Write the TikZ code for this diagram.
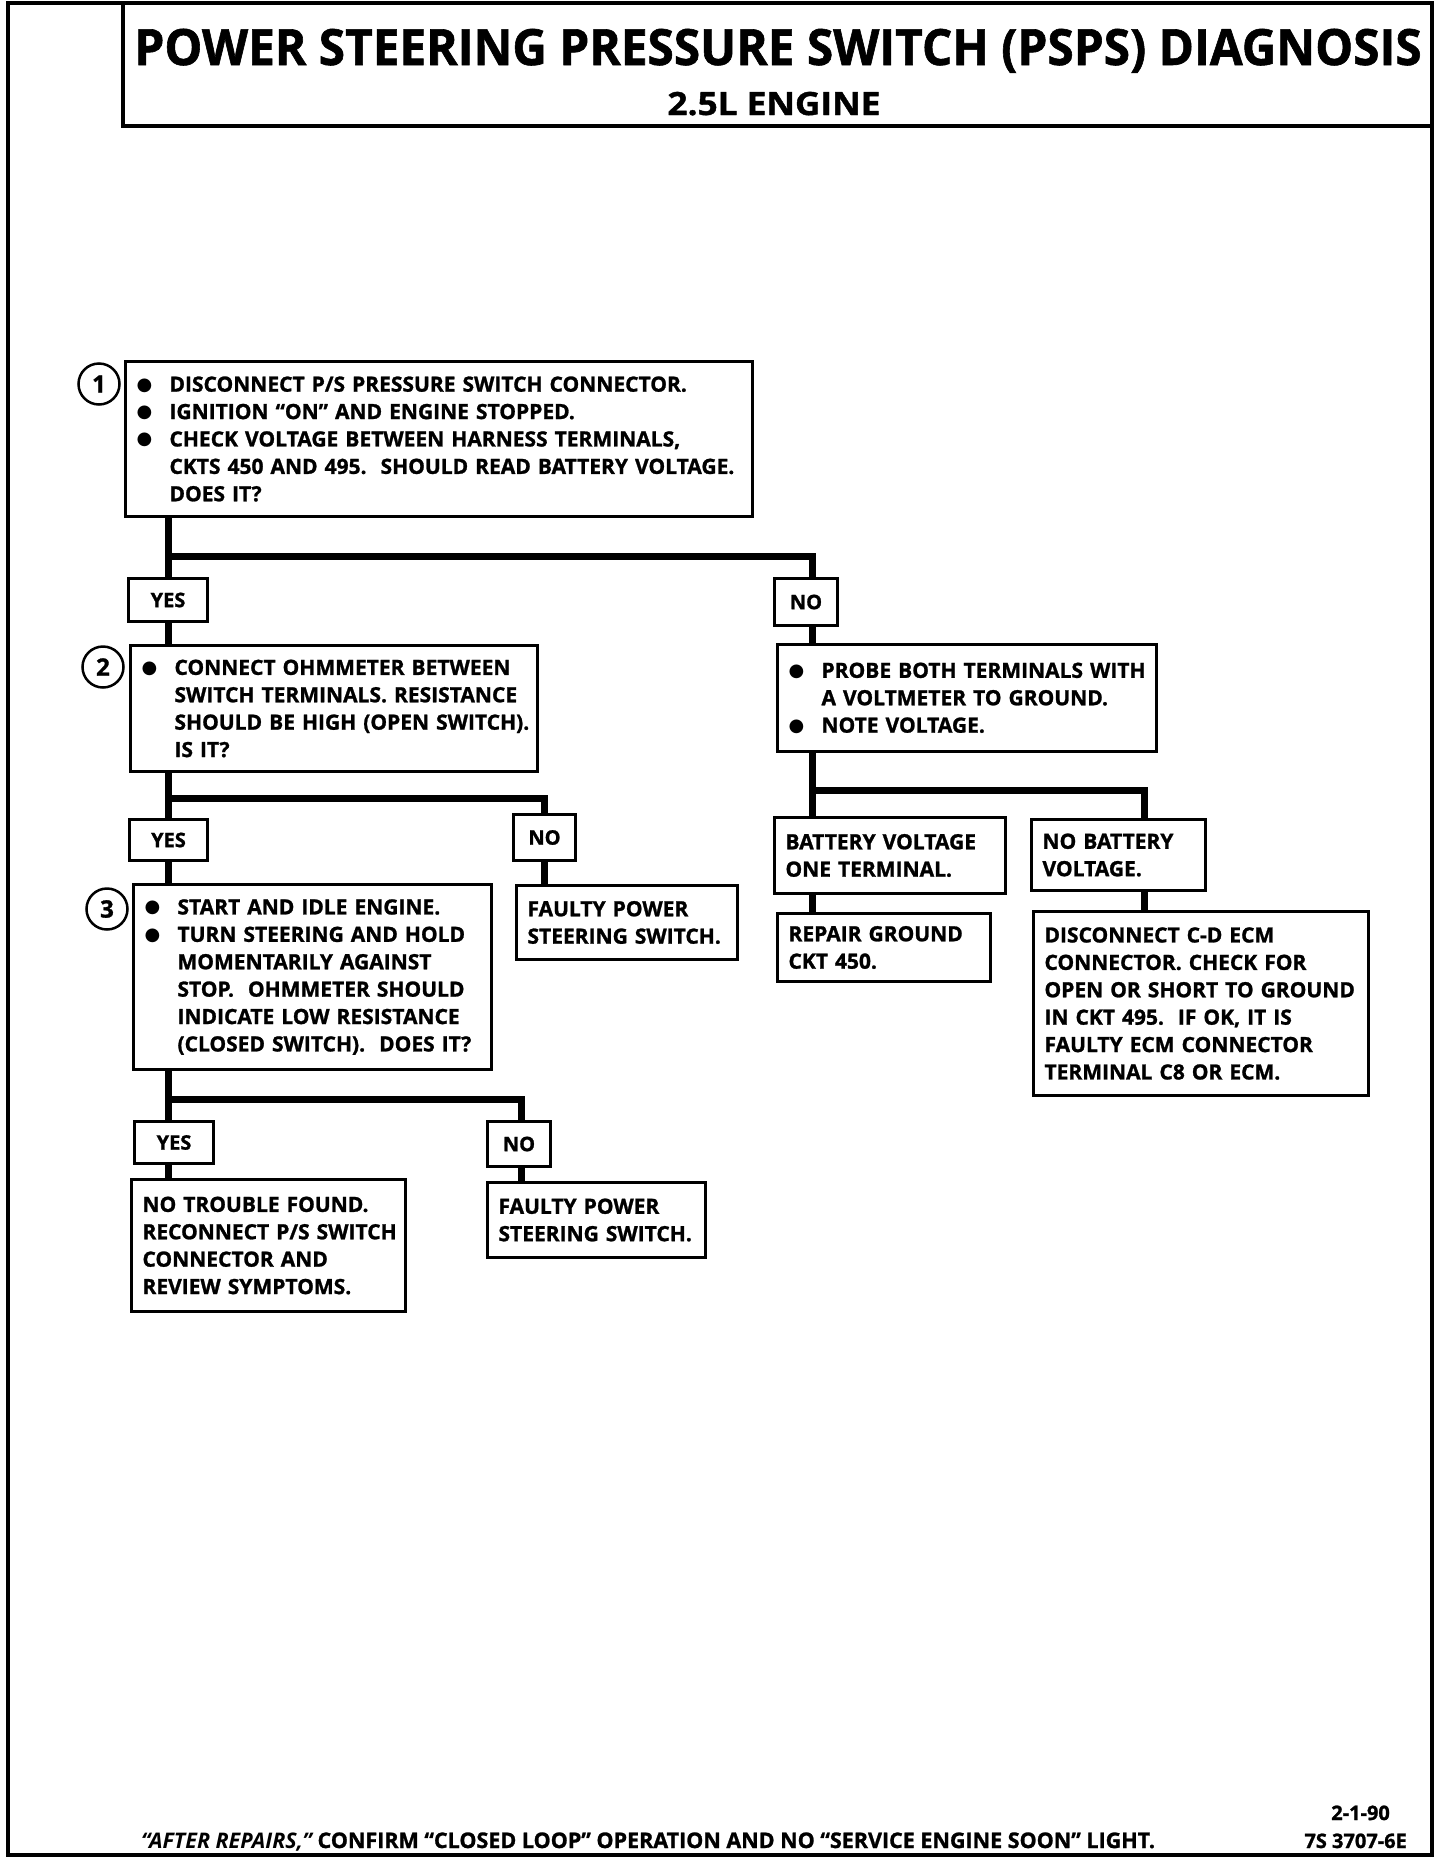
\documentclass[tikz,border=0pt]{standalone}
\usepackage{fontspec}
\setmainfont{Open Sans}[BoldFeatures={FakeBold=1.2}]
\newfontfamily\dejavu{DejaVu Sans}
\newcommand{\bl}{\makebox[33pt][l]{\raisebox{1.5pt}{\dejavu\fontsize{18}{18}\selectfont ●}}}
\newcommand{\ind}{\hspace*{33pt}}
\newcommand{\ml}[1]{\mbox{#1}}
\newcommand{\mybox}[6]{%
  \pgfmathsetmacro\mytw{#4-#2-22}%
  \pgfmathsetmacro\myht{#5-#3}%
  \node[box, text width=\mytw pt, minimum height=\myht pt] (#1) at (#2,#3) {#6};}
\newcommand{\mylab}[6]{%
  \pgfmathsetmacro\mytw{#4-#2}%
  \pgfmathsetmacro\myht{#5-#3}%
  \node[lab, minimum width=\mytw pt, minimum height=\myht pt] (#1) at (#2,#3) {#6};}
\begin{document}
\begin{tikzpicture}[x=1pt,y=-1pt,
  box/.style={draw, line width=3pt, anchor=north west, inner xsep=11pt, inner ysep=0pt,
    align=left, font=\bfseries\fontsize{21}{27.4}\selectfont},
  lab/.style={draw, line width=3pt, anchor=north west, inner sep=0pt, align=center,
    font=\bfseries\fontsize{20}{20}\selectfont},
  conn/.style={line width=7pt},
  num/.style={draw, circle, line width=2.5pt, inner sep=0pt, minimum size=41pt,
    font=\bfseries\fontsize{24}{24}\selectfont},
  frame/.style={line width=4.5pt},
  foot/.style={font=\bfseries\fontsize{21.5}{21.5}\selectfont, inner sep=0pt}]
\useasboundingbox (0,0) rectangle (1456,1874);
\fill[white] (0,0) rectangle (1456,1874);
% outer frame and title box
\draw[frame] (8,3) rectangle (1432,1855);
\draw[frame] (123,3) -- (123,126) -- (1432,126);
\node[anchor=base, inner sep=0pt, font=\bfseries\fontsize{50}{50}\selectfont] (title) at (778,65)
  {\scalebox{0.955}[1]{POWER STEERING PRESSURE SWITCH (PSPS) DIAGNOSIS}};
\node[anchor=base, inner sep=0pt, font=\bfseries\fontsize{32}{32}\selectfont] (sub) at (774,115)
  {\scalebox{1.1}[1]{2.5L ENGINE}};
% boxes
\mybox{b1}{124}{360}{751}{515}{\ml{\bl DISCONNECT P/S PRESSURE SWITCH CONNECTOR.}\\
  \ml{\bl IGNITION “ON” AND ENGINE STOPPED.}\\
  \ml{\bl CHECK VOLTAGE BETWEEN HARNESS TERMINALS,}\\
  \ml{\ind CKTS 450 AND 495.\ \ SHOULD READ BATTERY VOLTAGE.}\\
  \ml{\ind DOES IT?}}
\node[num] (c1) at (99,384) {1};
\mylab{yes1}{127}{577}{206}{620}{YES}
\mylab{no1}{773}{577}{836}{624}{NO}
\mybox{b2}{129}{644}{536}{770}{\ml{\bl CONNECT OHMMETER BETWEEN}\\
  \ml{\ind SWITCH TERMINALS. RESISTANCE}\\
  \ml{\ind SHOULD BE HIGH (OPEN SWITCH).}\\
  \ml{\ind IS IT?}}
\node[num] (c2) at (103,667) {2};
\mybox{nr}{776}{643}{1155}{750}{\ml{\bl PROBE BOTH TERMINALS WITH}\\
  \ml{\ind A VOLTMETER TO GROUND.}\\
  \ml{\bl NOTE VOLTAGE.}}
\mylab{yes2}{128}{818}{206}{859}{YES}
\mylab{no2}{512}{813}{574}{859}{NO}
\mybox{b3}{132}{883}{490}{1068}{\ml{\bl START AND IDLE ENGINE.}\\
  \ml{\bl TURN STEERING AND HOLD}\\
  \ml{\ind MOMENTARILY AGAINST}\\
  \ml{\ind STOP.\ \ OHMMETER SHOULD}\\
  \ml{\ind INDICATE LOW RESISTANCE}\\
  \ml{\ind (CLOSED SWITCH).\ \ DOES IT?}}
\node[num] (c3) at (107,909) {3};
\mybox{fa}{515}{884}{736}{958}{\ml{FAULTY POWER}\\\ml{STEERING SWITCH.}}
\mybox{batt}{773}{816}{1004}{892}{\ml{BATTERY VOLTAGE}\\\ml{ONE TERMINAL.}}
\mybox{rep}{776}{912}{989}{980}{\ml{REPAIR GROUND}\\\ml{CKT 450.}}
\mybox{nobatt}{1030}{818}{1204}{889}{\ml{NO BATTERY}\\\ml{VOLTAGE.}}
\mybox{disc}{1032}{910}{1367}{1094}{\ml{DISCONNECT C-D ECM}\\
  \ml{CONNECTOR. CHECK FOR}\\
  \ml{OPEN OR SHORT TO GROUND}\\
  \ml{IN CKT 495.\ \ IF OK, IT IS}\\
  \ml{FAULTY ECM CONNECTOR}\\
  \ml{TERMINAL C8 OR ECM.}}
\mylab{yes3}{133}{1120}{212}{1162}{YES}
\mylab{no3}{486}{1120}{549}{1165}{NO}
\mybox{nt}{130}{1178}{404}{1310}{\ml{NO TROUBLE FOUND.}\\
  \ml{RECONNECT P/S SWITCH}\\
  \ml{CONNECTOR AND}\\
  \ml{REVIEW SYMPTOMS.}}
\mybox{fb}{486}{1181}{704}{1256}{\ml{FAULTY POWER}\\\ml{STEERING SWITCH.}}
% connectors
\coordinate (j1) at (168,556);
\coordinate (j1r) at (812,556);
\draw[conn] (b1.south -| j1) -- (yes1.north -| j1);
\draw[conn] (j1) -- (j1r) -- (j1r |- no1.north);
\draw[conn] (yes1.south -| j1) -- (b2.north -| j1);
\draw[conn] (no1.south -| j1r) -- (nr.north -| j1r);
\coordinate (j2) at (168,798);
\coordinate (j2r) at (544,798);
\draw[conn] (b2.south -| j2) -- (yes2.north -| j2);
\draw[conn] (j2) -- (j2r) -- (j2r |- no2.north);
\draw[conn] (yes2.south -| j2) -- (b3.north -| j2);
\draw[conn] (no2.south -| j2r) -- (fa.north -| j2r);
\coordinate (jr) at (812,790);
\coordinate (jrr) at (1144,790);
\draw[conn] (nr.south -| jr) -- (batt.north -| jr);
\draw[conn] (jr) -- (jrr) -- (jrr |- nobatt.north);
\draw[conn] (batt.south -| jr) -- (rep.north -| jr);
\draw[conn] (nobatt.south -| jrr) -- (disc.north -| jrr);
\coordinate (j3) at (168,1099);
\coordinate (j3r) at (521,1099);
\draw[conn] (b3.south -| j3) -- (yes3.north -| j3);
\draw[conn] (j3) -- (j3r) -- (j3r |- no3.north);
\draw[conn] (yes3.south -| j3) -- (nt.north -| j3);
\draw[conn] (no3.south -| j3r) -- (fb.north -| j3r);
% footer
\node[foot, anchor=base west] (note) at (141,1848)
  {{\itshape “AFTER REPAIRS,”} CONFIRM “CLOSED LOOP” OPERATION AND NO “SERVICE ENGINE SOON” LIGHT.};
\node[foot, anchor=base east, font=\bfseries\fontsize{20}{20}\selectfont] (date) at (1390,1820) {2-1-90};
\node[foot, anchor=base east, font=\bfseries\fontsize{20}{20}\selectfont] (code) at (1407,1848) {7S 3707-6E};
\end{tikzpicture}
\end{document}
